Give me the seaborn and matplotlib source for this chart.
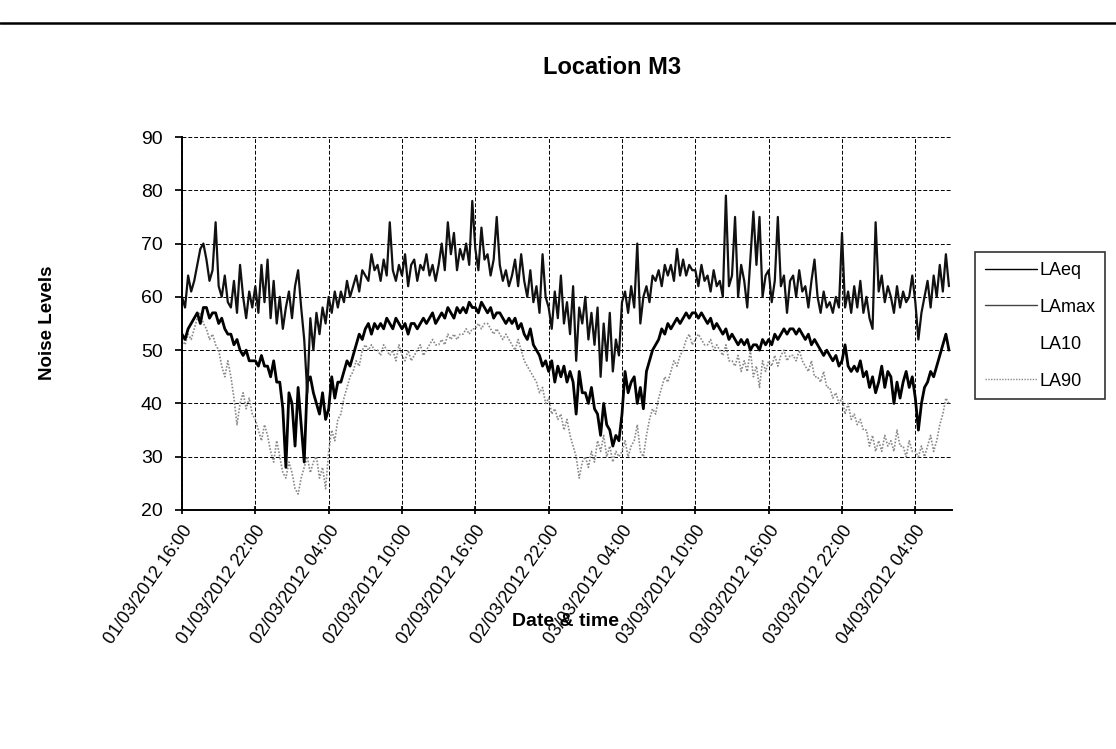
import pandas as pd
import matplotlib
matplotlib.use("Agg")
import matplotlib.pyplot as plt
from matplotlib.lines import Line2D
import seaborn as sns

sns.set_theme(style="white")
plt.rcParams['font.family'] = ['Liberation Sans', 'DejaVu Sans']
for key in ("text.color", "axes.labelcolor", "xtick.color", "ytick.color"):
    plt.rcParams[key] = "black"

# 15-minute noise levels (dB) starting 01/03/2012 16:00
start_time = "2012-03-01 16:00"

laeq = [
    53, 52, 54, 55, 56, 57, 55, 58, 58, 56, 57, 57, 55, 56, 54, 53, 53, 51, 52, 50, 49, 50, 48, 48,
    48, 47, 49, 47, 47, 45, 48, 44, 44, 39, 28, 42, 40, 32, 43, 36, 29, 44, 45, 42, 40, 38, 42, 37,
    39, 45, 41, 44, 44, 46, 48, 47, 49, 51, 53, 52, 54, 55, 53, 55, 54, 55, 54, 56, 55, 54, 56, 55,
    54, 55, 53, 55, 55, 54, 55, 56, 55, 56, 57, 55, 56, 57, 56, 58, 57, 56, 58, 57, 58, 57, 59, 58,
    58, 57, 59, 58, 57, 58, 56, 57, 57, 56, 55, 56, 55, 56, 54, 55, 53, 52, 54, 51, 50, 49, 47, 48,
    46, 48, 44, 47, 45, 47, 44, 46, 44, 38, 46, 42, 42, 40, 43, 39, 38, 34, 40, 36, 35, 32, 34, 33,
    38, 46, 42, 44, 45, 40, 43, 39, 46, 48, 50, 51, 52, 54, 53, 55, 54, 55, 56, 55, 56, 57, 56, 57,
    57, 56, 57, 56, 55, 56, 54, 55, 54, 53, 54, 52, 53, 52, 51, 52, 51, 52, 50, 51, 51, 50, 52, 51,
    52, 51, 53, 52, 53, 54, 53, 54, 54, 53, 54, 53, 52, 53, 51, 52, 51, 50, 49, 50, 49, 48, 49, 47,
    48, 51, 47, 46, 47, 46, 48, 45, 46, 43, 45, 42, 44, 47, 43, 46, 45, 40, 44, 41, 44, 46, 43, 45,
    41, 35, 40, 43, 44, 46, 45, 47, 49, 51, 53, 50,
]

lamax = [
    60, 58, 64, 61, 63, 66, 69, 70, 67, 63, 65, 74, 62, 60, 64, 59, 58, 63, 57, 66, 60, 56, 61, 58,
    62, 57, 66, 59, 67, 56, 63, 55, 60, 54, 58, 61, 56, 62, 65, 58, 52, 42, 56, 50, 57, 53, 58, 55,
    60, 57, 61, 58, 61, 59, 63, 60, 62, 64, 61, 65, 64, 63, 68, 65, 66, 63, 67, 64, 74, 65, 63, 66,
    64, 68, 62, 66, 67, 63, 66, 65, 68, 64, 66, 63, 66, 70, 65, 74, 68, 72, 65, 69, 67, 70, 66, 78,
    69, 65, 73, 67, 68, 64, 67, 75, 66, 63, 65, 62, 64, 67, 62, 68, 63, 60, 65, 59, 62, 57, 68, 60,
    58, 54, 61, 56, 64, 55, 59, 53, 62, 48, 58, 55, 60, 52, 57, 51, 58, 45, 55, 48, 57, 46, 52, 49,
    59, 61, 57, 62, 58, 70, 55, 60, 62, 59, 64, 63, 65, 62, 66, 64, 66, 63, 69, 64, 67, 64, 66, 65,
    65, 62, 66, 63, 64, 61, 65, 62, 63, 60, 79, 62, 64, 75, 60, 66, 63, 58, 67, 76, 66, 75, 60, 64,
    65, 59, 63, 75, 62, 64, 57, 63, 64, 60, 65, 61, 62, 58, 63, 67, 60, 57, 61, 58, 59, 57, 60, 58,
    72, 58, 61, 57, 62, 58, 63, 57, 60, 56, 54, 74, 61, 64, 59, 62, 60, 57, 62, 58, 61, 59, 60, 64,
    59, 52, 57, 60, 63, 58, 64, 60, 66, 61, 68, 62,
]

la90 = [
    52, 51, 53, 52, 54, 56, 57, 55, 54, 52, 53, 51, 50, 47, 45, 48, 45, 41, 36, 40, 42, 39, 41, 38,
    37, 35, 33, 36, 34, 31, 29, 33, 30, 27, 26, 29, 27, 24, 23, 26, 28, 30, 27, 29, 30, 26, 28, 24,
    31, 35, 33, 37, 38, 41, 43, 45, 46, 48, 47, 50, 51, 50, 51, 50, 50, 49, 51, 50, 49, 50, 48, 51,
    49, 48, 50, 48, 49, 50, 51, 49, 50, 51, 52, 51, 51, 52, 51, 53, 52, 53, 52, 53, 53, 54, 53, 54,
    54, 55, 54, 55, 55, 54, 53, 54, 53, 52, 53, 52, 51, 50, 52, 50, 48, 47, 46, 45, 44, 42, 43, 40,
    41, 38, 39, 37, 38, 35, 37, 34, 32, 30, 26, 29, 30, 28, 31, 29, 33, 31, 34, 30, 32, 29, 31, 30,
    31, 33, 30, 32, 33, 36, 31, 30, 34, 37, 39, 38, 41, 43, 45, 44, 46, 48, 47, 49, 50, 52, 53, 51,
    52, 53, 52, 51, 51, 52, 50, 51, 50, 49, 51, 48, 48, 47, 49, 46, 48, 46, 50, 45, 47, 43, 48, 46,
    48, 47, 49, 47, 49, 50, 48, 49, 49, 48, 50, 48, 47, 46, 48, 45, 45, 44, 46, 43, 43, 41, 42, 40,
    41, 38, 40, 37, 38, 36, 37, 35, 35, 32, 34, 31, 33, 31, 34, 32, 33, 31, 35, 32, 32, 30, 33, 31,
    31, 30, 32, 30, 32, 34, 31, 33, 36, 38, 41, 40,
]

tick_labels = [
    "01/03/2012 16:00", "01/03/2012 22:00", "02/03/2012 04:00", "02/03/2012 10:00",
    "02/03/2012 16:00", "02/03/2012 22:00", "03/03/2012 04:00", "03/03/2012 10:00",
    "03/03/2012 16:00", "03/03/2012 22:00", "04/03/2012 04:00",
]
y_ticks = [20, 30, 40, 50, 60, 70, 80, 90]

times = pd.date_range(start_time, periods=len(laeq), freq="15min")
df = pd.DataFrame({"time": times, "LAeq": laeq, "LAmax": lamax, "LA90": la90})
tick_times = pd.to_datetime(tick_labels, format="%d/%m/%Y %H:%M")

W, H = 1116, 749
fig = plt.figure(figsize=(W / 100, H / 100), dpi=100)
fig.patch.set_facecolor("white")

# page rule above the chart
fig.add_artist(Line2D([0, 1], [1 - 23 / H, 1 - 23 / H], color="black", lw=1.8,
                      transform=fig.transFigure))

ax = fig.add_axes([182 / W, 1 - 510 / H, (952 - 182) / W, (510 - 137) / H])
ax.set_facecolor("white")

sns.lineplot(data=df, x="time", y="LA90", ax=ax, color="#8a8a8a", lw=1.2,
             linestyle=(0, (1, 1)))
sns.lineplot(data=df, x="time", y="LAeq", ax=ax, color="black", lw=2.0)
sns.lineplot(data=df, x="time", y="LAmax", ax=ax, color="#111111", lw=1.6)

ax.set_ylim(20, 90)
ax.set_yticks(y_ticks)
ax.set_xlim(pd.Timestamp(start_time), pd.Timestamp("2012-03-04 07:00"))
ax.set_xticks(tick_times)
ax.set_xticklabels(tick_labels, rotation=55, ha="right", va="top",
                   rotation_mode="anchor", fontsize=13)
ax.tick_params(axis="y", labelsize=14, length=5, direction="out", left=True, pad=9)
ax.tick_params(axis="x", length=6, direction="inout", bottom=True, pad=6)
ax.set_xlabel("")
ax.set_ylabel("")

ax.grid(True, color="black", linestyle=(0, (4, 2)), linewidth=0.7)
for side in ("top", "right"):
    ax.spines[side].set_visible(False)
for side in ("left", "bottom"):
    ax.spines[side].set_color("black")
    ax.spines[side].set_linewidth(1.4)

fig.text(612 / W, 1 - 68 / H, "Location M3", ha="center", va="center",
         fontsize=17, fontweight="bold")
fig.text(47 / W, 1 - 323 / H, "Noise Levels", ha="center", va="center",
         rotation=90, fontsize=13.5, fontweight="bold")
fig.text(566 / W, 1 - 621 / H, "Date & time", ha="center", va="center",
         fontsize=14, fontweight="bold")

handles = [
    Line2D([], [], color="black", lw=1.0),
    Line2D([], [], color="#444444", lw=1.0),
    Line2D([], [], color="white", lw=1.0),
    Line2D([], [], color="#8a8a8a", lw=1.0, linestyle=(0, (1, 1))),
]
leg = fig.legend(handles, ["LAeq", "LAmax", "LA10", "LA90"], loc="upper left",
                 bbox_to_anchor=(975 / W, 1 - 252 / H), fontsize=13,
                 handlelength=2.9, handletextpad=0.1, labelspacing=1.1,
                 borderpad=0.55, borderaxespad=0, fancybox=False, frameon=True)
leg.get_frame().set_edgecolor("black")
leg.get_frame().set_linewidth(1.2)

fig.savefig("out.png", dpi=100, facecolor="white")
